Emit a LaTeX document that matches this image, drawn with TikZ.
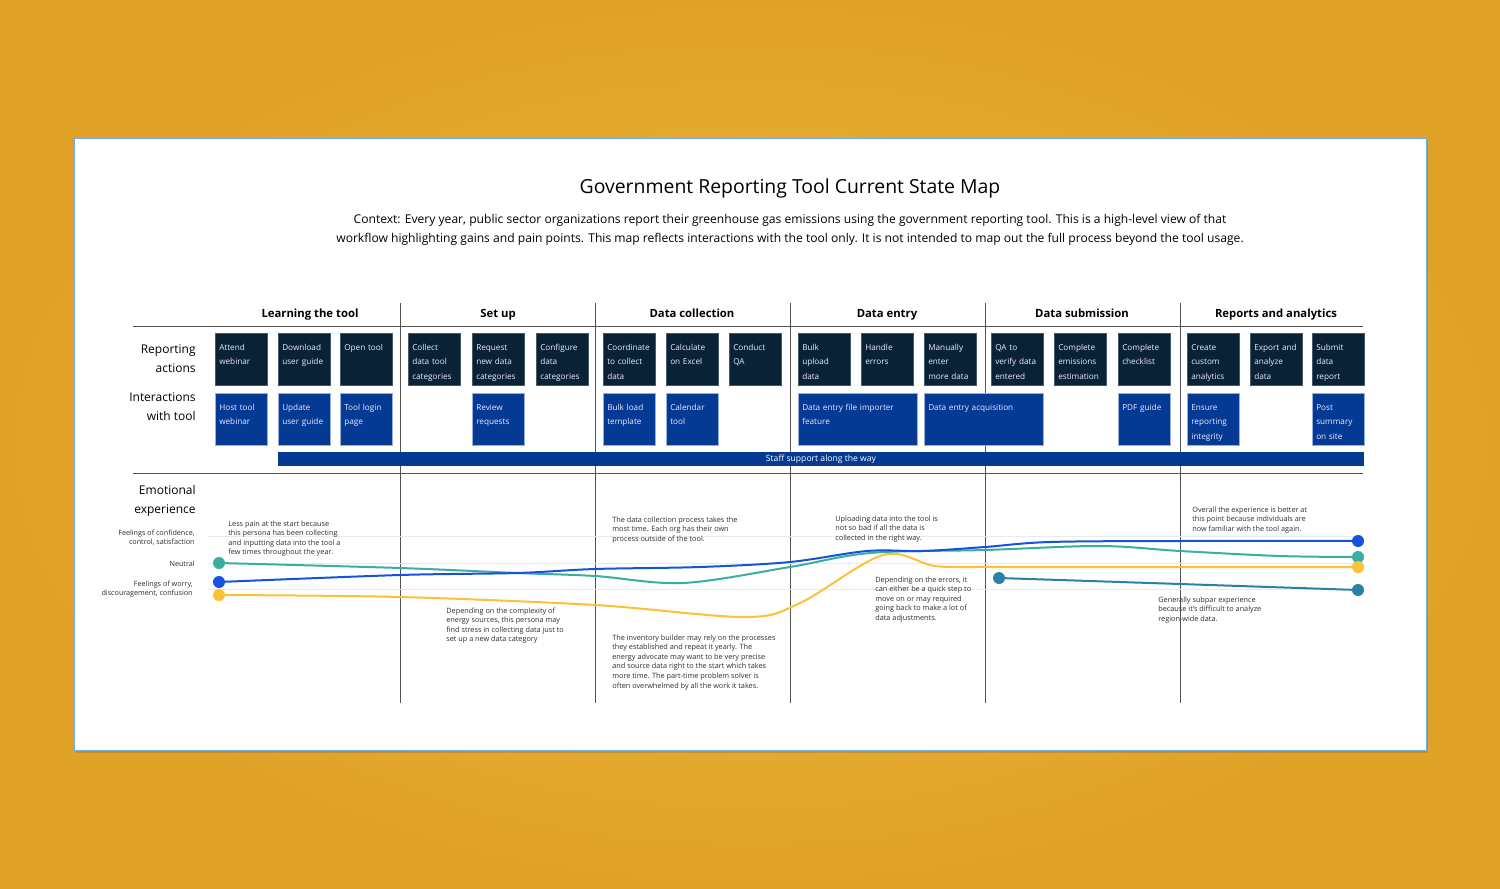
\documentclass[tikz,border=0pt]{standalone}
\usepackage{fontspec}
\setmainfont{Open Sans}

\definecolor{goldbg}{RGB}{224,162,38}
\definecolor{goldlt}{RGB}{236,186,64}
\definecolor{navybox}{RGB}{10,34,54}
\definecolor{navyrim}{RGB}{70,90,110}
\definecolor{toolblue}{RGB}{4,57,148}
\definecolor{toolrim}{RGB}{150,175,225}
\definecolor{cardrim}{RGB}{110,175,225}
\definecolor{rulegray}{RGB}{85,85,85}
\definecolor{gridgray}{RGB}{234,234,234}
\definecolor{noteink}{RGB}{45,45,45}
\definecolor{lineteal}{RGB}{58,174,160}
\definecolor{lineblue}{RGB}{21,83,220}
\definecolor{lineyellow}{RGB}{253,193,55}
\definecolor{linepetrol}{RGB}{42,128,166}

% stacked lines, baseline on the first line
\newcommand{\stackl}[1]{\begin{tabular}[t]{@{}l@{}}#1\end{tabular}}
\newcommand{\stackr}[1]{\begin{tabular}[t]{@{}r@{}}#1\end{tabular}}
\newcommand{\stackc}[1]{\begin{tabular}[t]{@{}c@{}}#1\end{tabular}}

\tikzset{every picture/.style={line width=0.75pt}}
\tikzset{
  actbox/.style={anchor=north west, fill=navybox, draw=navyrim, line width=0.5pt,
    text=white!92!blue, align=left, text width=44pt, inner xsep=4pt, inner ysep=4pt,
    text height=13pt, text depth=31pt, font=\fontsize{8.2}{14.5}\selectfont},
  toolbox/.style={actbox, fill=toolblue, draw=toolrim},
  widebox/.style={toolbox, text width=111pt},
  phasehead/.style={anchor=base, font=\fontsize{11.3}{13}\selectfont\bfseries},
  rowlabel/.style={anchor=base east, inner sep=0pt, font=\fontsize{12}{19}\selectfont},
  scalelabel/.style={anchor=base east, inner sep=0pt, font=\fontsize{7.2}{9.4}\selectfont, text=noteink},
  note/.style={anchor=base west, inner sep=0pt, font=\fontsize{7.3}{9.6}\selectfont, text=noteink},
  dot/.style={circle, minimum size=12pt, inner sep=0pt},
  curve/.style={line width=2pt, line cap=round}
}

\begin{document}
\begin{tikzpicture}[x=1pt,y=1pt,yscale=-1]
\useasboundingbox (0,0) rectangle (1500,889);

% background and card
\shade [inner color=goldlt, outer color=goldbg] (0,0) rectangle (1500,889);
\fill [black, opacity=0.12] (76,141) rectangle (1428,753);
\draw [fill=white, draw=cardrim, line width=1pt] (74,138) rectangle (1426,750);

% Text Node
\node (title) [anchor=base, inner sep=0pt, font=\fontsize{19.4}{22}\selectfont] at (790,193) {Government Reporting Tool Current State Map};
% Text Node
\node (context) [anchor=base, inner sep=0pt, font=\fontsize{12.1}{19}\selectfont] at (790,223) {\stackc{Context: Every year, public sector organizations report their greenhouse gas emissions using the government reporting tool. This is a high-level view of that\\workflow highlighting gains and pain points. This map reflects interactions with the tool only. It is not intended to map out the full process beyond the tool usage.}};

% rules and phase dividers
\draw [rulegray] (133,326) -- (1363,326);
\draw [rulegray] (133,473) -- (1363,473);
\draw [rulegray] (400,303) -- (400,703);
\draw [rulegray] (595,303) -- (595,703);
\draw [rulegray] (790,303) -- (790,703);
\draw [rulegray] (985,303) -- (985,703);
\draw [rulegray] (1180,303) -- (1180,703);

% phase headers
\node (phLearn) [phasehead] at (310,317) {Learning the tool};
\node (phSetup) [phasehead] at (498,317) {Set up};
\node (phCollect) [phasehead] at (692,317) {Data collection};
\node (phEntry) [phasehead] at (887,317) {Data entry};
\node (phSubmit) [phasehead] at (1082,317) {Data submission};
\node (phReport) [phasehead] at (1276,317) {Reports and analytics};

% row labels
\node (lbAct) [rowlabel] at (196,353) {\stackr{Reporting\\actions}};
\node (lbTool) [rowlabel] at (196,401) {\stackr{Interactions\\with tool}};
\node (lbEmo) [rowlabel] at (196,494) {\stackr{Emotional\\experience}};

%Reporting actions
\node (ra1) [actbox] at (215,333) {Attend\\webinar};
\node (ra2) [actbox] at (278,333) {Download\\user guide};
\node (ra3) [actbox] at (340,333) {Open tool};
\node (ra4) [actbox] at (408,333) {Collect\\data tool\\categories};
\node (ra5) [actbox] at (472,333) {Request\\new data\\categories};
\node (ra6) [actbox] at (536,333) {Configure\\data\\categories};
\node (ra7) [actbox] at (603,333) {Coordinate\\to collect\\data};
\node (ra8) [actbox] at (666,333) {Calculate\\on Excel};
\node (ra9) [actbox] at (729,333) {Conduct\\QA};
\node (ra10) [actbox] at (798,333) {Bulk\\upload\\data};
\node (ra11) [actbox] at (861,333) {Handle\\errors};
\node (ra12) [actbox] at (924,333) {Manually\\enter\\more data};
\node (ra13) [actbox] at (991,333) {QA to\\verify data\\entered};
\node (ra14) [actbox] at (1054,333) {Complete\\emissions\\estimation};
\node (ra15) [actbox] at (1118,333) {Complete\\checklist};
\node (ra16) [actbox] at (1187,333) {Create\\custom\\analytics};
\node (ra17) [actbox] at (1250,333) {Export and\\analyze\\data};
\node (ra18) [actbox] at (1312,333) {Submit\\data\\report};

%Interactions with tool
\node (it1) [toolbox] at (215,393) {Host tool\\webinar};
\node (it2) [toolbox] at (278,393) {Update\\user guide};
\node (it3) [toolbox] at (340,393) {Tool login\\page};
\node (it4) [toolbox] at (472,393) {Review\\requests};
\node (it5) [toolbox] at (603,393) {Bulk load\\template};
\node (it6) [toolbox] at (666,393) {Calendar\\tool};
\node (it7) [widebox] at (798,393) {Data entry file importer\\feature};
\node (it8) [widebox] at (924,393) {Data entry acquisition};
\node (it9) [toolbox] at (1118,393) {PDF guide};
\node (it10) [toolbox] at (1187,393) {Ensure\\reporting\\integrity};
\node (it11) [toolbox] at (1312,393) {Post\\summary\\on site};

% staff bar
\node (staff) [fill=toolblue, text=white, minimum width=1086pt, minimum height=14pt, inner sep=0pt, font=\fontsize{8.6}{9}\selectfont] at (821,459) {Staff support along the way};

% emotional scale
\draw [gridgray] (208,536) -- (1363,536);
\draw [gridgray] (208,563) -- (1363,563);
\draw [gridgray] (208,589) -- (1363,589);
\node (scHigh) [scalelabel] at (195,535) {\stackr{Feelings of confidence,\\control, satisfaction}};
\node (scMid) [scalelabel] at (195,566) {Neutral};
\node (scLow) [scalelabel] at (193,586) {\stackr{Feelings of worry,\\discouragement, confusion}};

% notes
\node (n1) [note] at (228,526) {\stackl{Less pain at the start because\\this persona has been collecting\\and inputting data into the tool a\\few times throughout the year.}};
\node (n2) [note] at (446,613) {\stackl{Depending on the complexity of\\energy sources, this persona may\\find stress in collecting data just to\\set up a new data category}};
\node (n3) [note] at (612,522) {\stackl{The data collection process takes the\\most time. Each org has their own\\process outside of the tool.}};
\node (n4) [note] at (612,640) {\stackl{The inventory builder may rely on the processes\\they established and repeat it yearly. The\\energy advocate may want to be very precise\\and source data right to the start which takes\\more time. The part-time problem solver is\\often overwhelmed by all the work it takes.}};
\node (n5) [note] at (835,521) {\stackl{Uploading data into the tool is\\not so bad if all the data is\\collected in the right way.}};
\node (n6) [note] at (875,582) {\stackl{Depending on the errors, it\\can either be a quick step to\\move on or may required\\going back to make a lot of\\data adjustments.}};
\node (n7) [note] at (1192,512) {\stackl{Overall the experience is better at\\this point because individuals are\\now familiar with the tool again.}};
\node (n8) [note] at (1158,602) {\stackl{Generally subpar experience\\because it’s difficult to analyze\\region-wide data.}};

% dots
\node (tealA) [dot] at (219,563) {};
\node (blueA) [dot] at (219,582) {};
\node (yelA) [dot] at (219,595) {};
\node (petA) [dot] at (999,578) {};
\node (blueB) [dot] at (1358,541) {};
\node (tealB) [dot] at (1358,557) {};
\node (yelB) [dot] at (1358,567) {};
\node (petB) [dot] at (1358,590) {};

% curves
\draw [curve, lineteal] plot [smooth, tension=0.55] coordinates {(tealA) (400,568) (517,573) (595,576) (683,583) (790,567) (870,553) (985,550) (1100,546) (1180,551) (1280,556) (tealB)};
\draw [curve, lineblue] plot [smooth, tension=0.55] coordinates {(blueA) (400,575) (517,573) (595,569) (700,567) (790,562) (867,551) (923,551) (985,547) (1050,542) (1180,541) (blueB)};
\draw [curve, lineyellow] plot [smooth, tension=0.55] coordinates {(yelA) (400,597) (595,605) (745,617) (800,603) (883,555) (935,566) (990,567) (1180,567) (yelB)};
\draw [curve, linepetrol] plot [smooth, tension=0.5] coordinates {(petA) (1180,584) (petB)};

\fill [lineteal] (tealA) circle (6);
\fill [lineblue] (blueA) circle (6);
\fill [lineyellow] (yelA) circle (6);
\fill [linepetrol] (petA) circle (6);
\fill [lineblue] (blueB) circle (6);
\fill [lineteal] (tealB) circle (6);
\fill [lineyellow] (yelB) circle (6);
\fill [linepetrol] (petB) circle (6);

\end{tikzpicture}
\end{document}
